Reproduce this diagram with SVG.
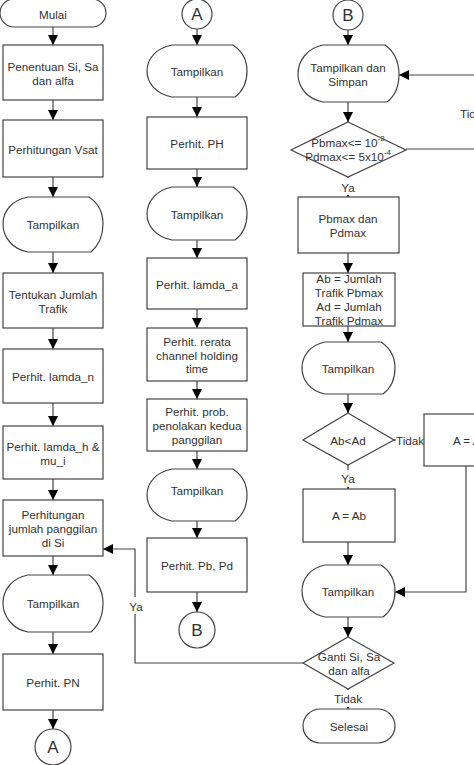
<svg xmlns="http://www.w3.org/2000/svg" width="474" height="765" viewBox="0 0 474 765">
<defs>
<marker id="ah" markerUnits="userSpaceOnUse" markerWidth="10" markerHeight="10" refX="10" refY="5" orient="auto" viewBox="0 0 10 10">
<path d="M0,0 L10,5 L0,10 z" fill="#000"/>
</marker>
<style>
.s{fill:#fff;stroke:#444;stroke-width:1.2}
.t{font-family:"Liberation Sans",Arial,sans-serif;font-size:11.7px;fill:#333;text-anchor:middle;dominant-baseline:central}
.big{font-size:17px}
.c{fill:none;stroke:#444;stroke-width:1.2;marker-end:url(#ah)}
.l{fill:none;stroke:#444;stroke-width:1.2}
.bg{fill:#fff}
</style>
</defs>
<rect width="474" height="765" fill="#fff"/>

<g id="connectors">
<line class="c" x1="53" y1="27" x2="53" y2="45"/>
<line class="c" x1="53" y1="100" x2="53" y2="120"/>
<line class="c" x1="53" y1="177" x2="53" y2="197"/>
<line class="c" x1="53" y1="252" x2="53" y2="273"/>
<line class="c" x1="53" y1="328" x2="53" y2="349"/>
<line class="c" x1="53" y1="403" x2="53" y2="426"/>
<line class="c" x1="53" y1="479" x2="53" y2="500"/>
<line class="c" x1="53" y1="556" x2="53" y2="575"/>
<line class="c" x1="53" y1="632" x2="53" y2="654"/>
<line class="c" x1="53" y1="710" x2="53" y2="729"/>
<path class="c" d="M303,663 L135,663 L135,549 L103,549"/>
<line class="c" x1="197" y1="29" x2="197" y2="45"/>
<line class="c" x1="197" y1="97" x2="197" y2="117"/>
<line class="c" x1="197" y1="169" x2="197" y2="187"/>
<line class="c" x1="197" y1="240" x2="197" y2="258"/>
<line class="c" x1="197" y1="309" x2="197" y2="328"/>
<line class="c" x1="197" y1="381" x2="197" y2="399"/>
<line class="c" x1="197" y1="451" x2="197" y2="469"/>
<line class="c" x1="197" y1="521" x2="197" y2="538"/>
<line class="c" x1="197" y1="592" x2="197" y2="612"/>
<line class="c" x1="348" y1="30" x2="348" y2="45"/>
<line class="c" x1="348" y1="102" x2="348" y2="122"/>
<line class="c" x1="348" y1="177" x2="348" y2="197"/>
<line class="c" x1="348" y1="253" x2="348" y2="273"/>
<line class="c" x1="348" y1="326" x2="348" y2="342"/>
<line class="c" x1="348" y1="394" x2="348" y2="413"/>
<line class="c" x1="348" y1="465" x2="348" y2="489"/>
<line class="c" x1="348" y1="542" x2="348" y2="565"/>
<line class="c" x1="348" y1="617" x2="348" y2="637"/>
<line class="c" x1="348" y1="689" x2="348" y2="709"/>
<line class="c" x1="394" y1="440" x2="424" y2="440"/>
<path class="c" d="M466,466 L466,592 L395,592"/>
<line class="l" x1="406" y1="149" x2="480" y2="149"/>
<line class="c" x1="480" y1="75" x2="399" y2="75"/>
<rect class="bg" x="127" y="597" width="18" height="17"/>
<text class="t" x="136" y="606">Ya</text>
<rect class="bg" x="338" y="178" width="20" height="17"/>
<text class="t" x="348" y="187">Ya</text>
<rect class="bg" x="338" y="470" width="20" height="17"/>
<text class="t" x="348" y="478">Ya</text>
<rect class="bg" x="396" y="432" width="28" height="17"/>
<text class="t" x="410" y="440">Tidak</text>
<rect class="bg" x="333" y="690" width="30" height="17"/>
<text class="t" x="348" y="698">Tidak</text>
<text class="t" x="460" y="113" style="text-anchor:start">Tidak</text>
</g>

<g id="mulai"><rect class="s" x="0" y="-1" width="106" height="28" rx="14"/><text class="t" x="53" y="14">Mulai</text></g>
<g id="penentuan"><rect class="s" x="3" y="45" width="100" height="55"/><text class="t" x="53" y="66">Penentuan Si, Sa</text><text class="t" x="53" y="80">dan alfa</text></g>
<g id="vsat"><rect class="s" x="3" y="120" width="100" height="57"/><text class="t" x="53" y="149">Perhitungan Vsat</text></g>
<g id="tampil1"><path class="s" d="M28,197 L89,197 C98,203 103,213 103,224 C103,236 99,245 91,252 L28,252 C12,249 3,237 3,224 C3,211 12,200 28,197 Z"/><text class="t" x="53" y="224">Tampilkan</text></g>
<g id="trafik"><rect class="s" x="3" y="273" width="100" height="55"/><text class="t" x="53" y="294">Tentukan Jumlah</text><text class="t" x="53" y="308">Trafik</text></g>
<g id="lamdan"><rect class="s" x="3" y="349" width="100" height="54"/><text class="t" x="53" y="376">Perhit. lamda_n</text></g>
<g id="lamdah"><rect class="s" x="3" y="426" width="100" height="53"/><text class="t" x="53" y="446">Perhit. lamda_h &amp;</text><text class="t" x="53" y="460">mu_i</text></g>
<g id="jumlah"><rect class="s" x="3" y="500" width="100" height="56"/><text class="t" x="53" y="514">Perhitungan</text><text class="t" x="53" y="528">jumlah panggilan</text><text class="t" x="53" y="542">di Si</text></g>
<g id="tampil2"><path class="s" d="M28,575 L89,575 C98,581 103,592 103,603 C103,615 99,625 91,632 L28,632 C12,629 3,616 3,603 C3,590 12,578 28,575 Z"/><text class="t" x="53" y="603">Tampilkan</text></g>
<g id="pn"><rect class="s" x="3" y="654" width="100" height="56"/><text class="t" x="53" y="682">Perhit. PN</text></g>
<g id="connA1"><circle class="s" cx="53" cy="747" r="18"/><text class="t big" x="53" y="747">A</text></g>

<g id="connA2"><circle class="s" cx="197" cy="14" r="15"/><text class="t big" x="197" y="14">A</text></g>
<g id="tampil3"><path class="s" d="M172,45 L233,45 C242,51 247,60 247,71 C247,82 243,91 235,97 L172,97 C156,94 147,83 147,71 C147,59 156,48 172,45 Z"/><text class="t" x="197" y="71">Tampilkan</text></g>
<g id="ph"><rect class="s" x="147" y="117" width="100" height="52"/><text class="t" x="197" y="143">Perhit. PH</text></g>
<g id="tampil4"><path class="s" d="M172,187 L233,187 C242,193 247,203 247,214 C247,225 243,234 235,240 L172,240 C156,237 147,226 147,214 C147,202 156,190 172,187 Z"/><text class="t" x="197" y="214">Tampilkan</text></g>
<g id="lamdaa"><rect class="s" x="147" y="258" width="100" height="51"/><text class="t" x="197" y="284">Perhit. lamda_a</text></g>
<g id="rerata"><rect class="s" x="147" y="328" width="100" height="53"/><text class="t" x="197" y="341">Perhit. rerata</text><text class="t" x="197" y="355">channel holding</text><text class="t" x="197" y="368">time</text></g>
<g id="prob"><rect class="s" x="147" y="399" width="100" height="52"/><text class="t" x="197" y="411">Perhit. prob.</text><text class="t" x="197" y="425">penolakan kedua</text><text class="t" x="197" y="439">panggilan</text></g>
<g id="tampil5"><path class="s" d="M172,469 L233,469 C242,475 247,484 247,495 C247,506 243,515 235,521 L172,521 C156,518 147,507 147,495 C147,483 156,472 172,469 Z"/><text class="t" x="197" y="490">Tampilkan</text></g>
<g id="pbpd"><rect class="s" x="147" y="538" width="100" height="54"/><text class="t" x="197" y="565">Perhit. Pb, Pd</text></g>
<g id="connB1"><circle class="s" cx="197" cy="630" r="18"/><text class="t big" x="197" y="630">B</text></g>

<g id="connB2"><circle class="s" cx="348" cy="15" r="15"/><text class="t big" x="348" y="15">B</text></g>
<g id="simpan"><path class="s" d="M323,45 L385,45 C394,51 399,62 399,74 C399,86 395,96 387,102 L323,102 C307,99 298,87 298,74 C298,61 307,48 323,45 Z"/><text class="t" x="348" y="67">Tampilkan dan</text><text class="t" x="348" y="81">Simpan</text></g>
<g id="cek1"><polygon class="s" points="348,122 406,150 348,177 291,150"/>
<text class="t" x="348" y="142">Pbmax&lt;= 10<tspan font-size="8" dy="-4">-2</tspan></text>
<text class="t" x="348" y="156">Pdmax&lt;= 5x10<tspan font-size="8" dy="-4">-4</tspan></text></g>
<g id="pbmax"><rect class="s" x="298" y="197" width="101" height="56"/><text class="t" x="348" y="218">Pbmax dan</text><text class="t" x="348" y="232">Pdmax</text></g>
<g id="abad"><rect class="s" x="303" y="273" width="92" height="53"/><text class="t" x="349" y="278">Ab = Jumlah</text><text class="t" x="349" y="292">Trafik Pbmax</text><text class="t" x="349" y="306">Ad = Jumlah</text><text class="t" x="349" y="320">Trafik Pdmax</text></g>
<g id="tampil6"><path class="s" d="M325,342 L381,342 C390,348 395,357 395,368 C395,379 391,388 383,394 L325,394 C310,391 302,380 302,368 C302,356 310,345 325,342 Z"/><text class="t" x="348" y="368">Tampilkan</text></g>
<g id="cek2"><polygon class="s" points="348,413 394,440 348,465 303,440"/><text class="t" x="348" y="440">Ab&lt;Ad</text></g>
<g id="aad"><rect class="s" x="424" y="414" width="92" height="52"/><text class="t" x="470" y="440">A = Ad</text></g>
<g id="aab"><rect class="s" x="303" y="489" width="92" height="53"/><text class="t" x="349" y="515">A = Ab</text></g>
<g id="tampil7"><path class="s" d="M325,565 L381,565 C390,571 395,580 395,591 C395,602 391,611 383,617 L325,617 C310,614 302,603 302,591 C302,579 310,568 325,565 Z"/><text class="t" x="348" y="591">Tampilkan</text></g>
<g id="ganti"><polygon class="s" points="348,637 394,663 348,689 303,663"/><text class="t" x="349" y="656">Ganti Si, Sa</text><text class="t" x="349" y="670">dan alfa</text></g>
<g id="selesai"><rect class="s" x="303" y="709" width="92" height="34" rx="17"/><text class="t" x="349" y="726">Selesai</text></g>
</svg>
